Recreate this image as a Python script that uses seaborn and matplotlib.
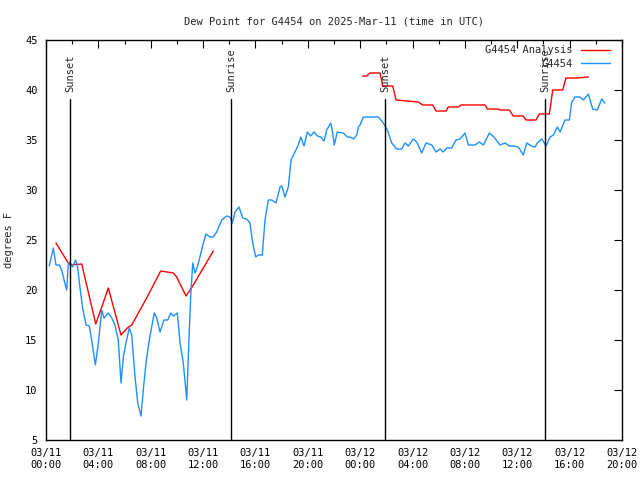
import numpy as np
import pandas as pd
import matplotlib
matplotlib.use("Agg")
import matplotlib.pyplot as plt
import matplotlib.dates as mdates
from matplotlib.lines import Line2D
import seaborn as sns

# hours after 2025-03-11 00:00 UTC
obs_hours = [0.25, 0.56, 0.76, 1.02, 1.20, 1.38, 1.58, 1.70, 1.83, 2.01, 2.27, 2.42, 2.60, 2.80,
             3.06, 3.31, 3.57, 3.77, 4.00, 4.26, 4.43, 4.76, 5.02, 5.27, 5.52, 5.73, 5.91, 6.11,
             6.36, 6.55, 6.80, 7.01, 7.26, 7.43, 7.64, 7.89, 8.27, 8.46, 8.71, 9.01, 9.30, 9.53,
             9.73, 10.03, 10.24, 10.49, 10.70, 10.75, 10.87, 11.05, 11.21, 11.38, 11.56, 11.76,
             12.02, 12.22, 12.53, 12.78, 13.04, 13.42, 13.80, 14.06, 14.23, 14.44, 14.74, 15.03,
             15.33, 15.58, 15.79, 16.02, 16.22, 16.52, 16.73, 16.98, 17.24, 17.57, 17.88, 18.01,
             18.26, 18.51, 18.72, 19.02, 19.27, 19.46, 19.71, 19.96, 20.22, 20.47, 20.73, 20.99,
             21.24, 21.44, 21.75, 21.90, 22.02, 22.25, 22.71, 23.02, 23.22, 23.48, 23.74, 23.86,
             23.99, 24.24, 25.00, 25.39, 25.77, 26.07, 26.41, 26.79, 27.17, 27.43, 27.68, 28.06,
             28.32, 28.70, 29.03, 29.47, 29.79, 30.10, 30.35, 30.61, 30.99, 31.32, 31.63, 32.01,
             32.26, 32.77, 33.10, 33.41, 33.87, 34.22, 34.68, 35.07, 35.39, 35.70, 36.08, 36.46,
             36.72, 37.10, 37.36, 37.53, 37.87, 38.20, 38.50, 38.76, 39.06, 39.27, 39.65, 39.98,
             40.16, 40.41, 40.79, 41.05, 41.43, 41.76, 42.12, 42.45, 42.70]
obs_dewpt = [22.4, 24.2, 22.5, 22.5, 22.0, 21.0, 20.0, 22.5, 22.8, 22.3, 23.0, 22.2, 20.2, 18.2,
             16.5, 16.4, 14.3, 12.5, 14.7, 18.0, 17.2, 17.7, 17.2, 16.5, 15.0, 10.7, 13.3, 14.7,
             16.2, 15.5, 11.3, 8.7, 7.4, 10.0, 12.7, 15.0, 17.7, 17.2, 15.8, 17.0, 17.0, 17.7,
             17.4, 17.7, 14.7, 12.7, 9.7, 9.0, 13.3, 19.3, 22.7, 21.7, 22.3, 23.3,
             24.7, 25.6, 25.3, 25.3, 25.8, 27.0, 27.4, 27.3, 26.7, 27.8, 28.3, 27.2,
             27.1, 26.7, 24.7, 23.3, 23.5, 23.5, 27.0, 29.0, 29.0, 28.7, 30.3, 30.4,
             29.3, 30.3, 33.0, 33.8, 34.5, 35.3, 34.4, 35.8, 35.4, 35.8, 35.4, 35.3,
             34.9, 36.0, 36.7, 35.7, 34.5, 35.8, 35.7, 35.3, 35.3, 35.1, 35.5, 36.3,
             36.5, 37.3, 37.3, 37.3, 36.7, 36.0, 34.7, 34.1, 34.1, 34.7, 34.4, 35.1,
             34.8, 33.7, 34.7, 34.5, 33.8, 34.1, 33.8, 34.2, 34.2, 35.0, 35.1, 35.7,
             34.5, 34.5, 34.8, 34.5, 35.7, 35.3, 34.5, 34.7, 34.4, 34.4, 34.3, 33.5,
             34.7, 34.4, 34.3, 34.7, 35.1, 34.4, 35.3, 35.5, 36.3, 35.8, 37.0, 37.0,
             38.8, 39.3, 39.3, 39.0, 39.6, 38.1, 38.0, 39.1, 38.7]

ana_hours = [0.76, 1.70, 1.89, 2.73, 3.80, 4.26, 4.76, 5.73, 6.21, 6.55, 7.69, 8.76, 9.73, 9.98,
             10.70, 11.25, 12.78,
             24.19, 24.50, 24.75, 25.52, 25.72, 26.49, 26.74, 27.56, 28.44, 28.78, 29.54, 29.79,
             30.56, 30.73, 31.50, 31.70, 33.54, 33.71, 34.55, 34.68, 35.39, 35.70, 36.46, 36.67,
             37.43, 37.69, 38.45, 38.71, 39.47, 39.72, 40.54, 41.43]
ana_dewpt = [24.7, 22.7, 22.5, 22.6, 16.6, 18.3, 20.2, 15.5, 16.2, 16.5, 19.2, 21.9, 21.7, 21.3,
             19.4, 20.5, 23.9,
             41.4, 41.4, 41.7, 41.7, 40.4, 40.4, 39.0, 38.9, 38.8, 38.5, 38.5, 37.9,
             37.9, 38.3, 38.3, 38.5, 38.5, 38.1, 38.1, 38.0, 38.0, 37.4, 37.4, 37.0,
             37.0, 37.6, 37.6, 40.0, 40.0, 41.2, 41.2, 41.3]
ana_segment = [0] * 17 + [1] * 32

sun_labels = ["Sunset", "Sunrise", "Sunset", "Sunrise"]
sun_hours = [1.83, 14.13, 25.90, 38.12]

base = pd.Timestamp("2025-03-11 00:00")
obs = pd.DataFrame({"time": base + pd.to_timedelta(obs_hours, unit="h"), "dewpt": obs_dewpt})
ana = pd.DataFrame({"time": base + pd.to_timedelta(ana_hours, unit="h"), "dewpt": ana_dewpt,
                    "seg": ana_segment})

red = "#ff0000"
blue = "#1e90ff"
fs = 7.5

sns.set_style("white")
plt.rcParams["font.family"] = ["DejaVu Sans Mono"]
plt.rcParams["font.size"] = fs

fig = plt.figure(figsize=(6.4, 4.8), dpi=100)
ax = fig.add_axes([46 / 640, 40 / 480, 576 / 640, 400 / 480])

sns.lineplot(data=ana, x="time", y="dewpt", units="seg", estimator=None, color=red,
             linewidth=1, ax=ax, legend=False)
sns.lineplot(data=obs, x="time", y="dewpt", color=blue, linewidth=1, ax=ax, legend=False)

for lab, h in zip(sun_labels, sun_hours):
    t = base + pd.Timedelta(hours=h)
    ax.plot([t, t], [5, 39.1], color="black", linewidth=1)
    ax.text(t, 39.8, lab, rotation=90, ha="center", va="bottom", fontsize=fs)

ax.set_xlim(base, base + pd.Timedelta(hours=44))
ax.set_ylim(5, 45)
ax.set_yticks(np.arange(5, 46, 5))
ax.xaxis.set_major_locator(mdates.HourLocator(byhour=range(0, 24, 4)))
ax.xaxis.set_minor_locator(mdates.HourLocator(byhour=range(0, 24, 2)))
ax.xaxis.set_major_formatter(mdates.DateFormatter("%m/%d\n%H:%M"))
ax.tick_params(which="both", direction="in", top=True, right=True, labelsize=fs, colors="black")
ax.tick_params(which="major", length=6, width=0.8, pad=6)
ax.tick_params(which="minor", length=3, width=0.8)
for s in ax.spines.values():
    s.set_color("black")
    s.set_linewidth(1)

ax.set_xlabel("")
ax.set_ylabel("degrees F", fontsize=fs, labelpad=8)
ax.set_title("Dew Point for G4454 on 2025-Mar-11 (time in UTC)", fontsize=fs, pad=11)

handles = [Line2D([], [], color=red, linewidth=1), Line2D([], [], color=blue, linewidth=1)]
leg = ax.legend(handles, ["G4454 Analysis", "G4454"], loc="upper right",
                bbox_to_anchor=(564 / 576, 394.5 / 400), frameon=False, fontsize=fs,
                markerfirst=False, handlelength=2.8, borderaxespad=0, borderpad=0,
                labelspacing=0.35, handletextpad=0.8)
for t in leg.get_texts():
    t.set_ha("right")

fig.savefig("out.png", dpi=100)
